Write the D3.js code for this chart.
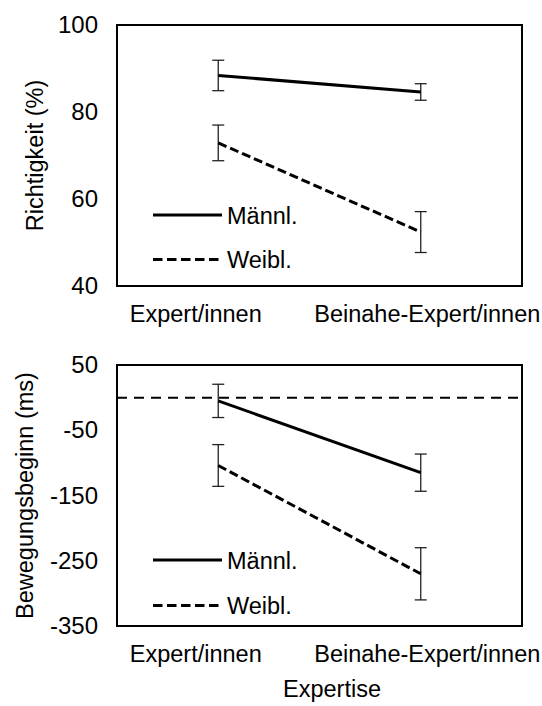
<!DOCTYPE html>
<html>
<head>
<meta charset="utf-8">
<script src="https://cdn.jsdelivr.net/npm/d3@7"></script>
<style>
	body { margin: 0; background: #fff; }
	text { font-family: "Liberation Sans", Arial, sans-serif; fill: #000; }
</style>
</head>
<body>
<svg></svg>
<script>
 //chart data
var categories = ['Expert/innen', 'Beinahe-Expert/innen'],
		seriesNames = ['Männl.', 'Weibl.'];
var accMale = [88.4, 84.6],
		accMaleErr = [3.5, 1.9],
		accFemale = [72.9, 52.4],
		accFemaleErr = [4.1, 4.7],
		accTicks = [40, 60, 80, 100];
var onsetMale = [-5, -115],
		onsetMaleErr = [25.5, 28.5],
		onsetFemale = [-104, -270],
		onsetFemaleErr = [32, 40],
		onsetTicks = [-350, -250, -150, -50, 50];

var W = 542, H = 706,
		root = d3.select('svg').attr('width', W).attr('height', H);

var FONT = 23.5,
		LEFT = 117, RIGHT = 522;

var sx = d3.scalePoint()
			.domain(categories)
			.range([LEFT, RIGHT])
			.padding(0.5);

 //one panel = box, axes, error bars, two lines, legend
function panel(opt) {
	var sy = d3.scaleLinear()
				.domain(opt.domain)
				.range([opt.bottom, opt.top]);
	var g = root.append('g');

	if(opt.refLine !== undefined) {
		g.append('line')
			.attr('x1', LEFT).attr('x2', RIGHT)
			.attr('y1', sy(opt.refLine)).attr('y2', sy(opt.refLine))
			.attr('stroke', '#000')
			.attr('stroke-width', 2)
			.attr('stroke-dasharray', '10,7');
	}

	var series = [
		{ name: seriesNames[0], values: opt.male, err: opt.maleErr, dash: null },
		{ name: seriesNames[1], values: opt.female, err: opt.femaleErr, dash: '9,4' }
	];

	var line = d3.line()
		.x(function(d) { return sx(d.c); })
		.y(function(d) { return sy(d.v); });

	series.forEach(function(s) {
		var pts = s.values.map(function(v, i) { return { c: categories[i], v: v, e: s.err[i] }; });

		var eb = g.append('g').selectAll('g').data(pts).enter().append('g')
			.attr('stroke', '#222')
			.attr('stroke-width', 1.3);
		eb.append('line')
			.attr('x1', function(d) { return sx(d.c); })
			.attr('x2', function(d) { return sx(d.c); })
			.attr('y1', function(d) { return sy(d.v - d.e); })
			.attr('y2', function(d) { return sy(d.v + d.e); });
		[-1, 1].forEach(function(k) {
			eb.append('line')
				.attr('x1', function(d) { return sx(d.c) - 6; })
				.attr('x2', function(d) { return sx(d.c) + 6; })
				.attr('y1', function(d) { return sy(d.v + k * d.e); })
				.attr('y2', function(d) { return sy(d.v + k * d.e); });
		});

		g.append('path')
			.datum(pts)
			.attr('d', line)
			.attr('fill', 'none')
			.attr('stroke', '#000')
			.attr('stroke-width', 3)
			.attr('stroke-dasharray', s.dash);
	});

	 //box
	g.append('rect')
		.attr('x', LEFT).attr('y', opt.top)
		.attr('width', RIGHT - LEFT).attr('height', opt.bottom - opt.top)
		.attr('fill', 'none')
		.attr('stroke', '#000')
		.attr('stroke-width', 2);

	 //axes
	var ay = g.append('g')
		.attr('transform', 'translate(' + LEFT + ',0)')
		.call(d3.axisLeft(sy).tickValues(opt.ticks).tickSize(0).tickPadding(19)
			.tickFormat(function(d) { return String(d); }));
	ay.select('.domain').remove();
	ay.selectAll('text').style('font-size', '24px').style('font-family', null).attr('fill', '#000');

	var ax = g.append('g')
		.attr('transform', 'translate(0,' + opt.bottom + ')')
		.call(d3.axisBottom(sx).tickSize(0).tickPadding(19.5));
	ax.select('.domain').remove();
	ax.selectAll('text')
		.style('font-size', FONT + 'px').style('font-family', null).attr('fill', '#000')
		.attr('dx', function(d, i) { return i === 0 ? -23 : 6; });

	 //y title
	g.append('text')
		.attr('transform', 'translate(' + opt.titleX + ',' + (opt.top + opt.bottom) / 2 + ') rotate(-90)')
		.attr('text-anchor', 'middle')
		.style('font-size', FONT + 'px')
		.text(opt.title);

	 //legend
	series.forEach(function(s, i) {
		var ly = opt.legendY[i];
		g.append('line')
			.attr('x1', 153).attr('x2', 222)
			.attr('y1', ly).attr('y2', ly)
			.attr('stroke', '#000')
			.attr('stroke-width', 3)
			.attr('stroke-dasharray', s.dash ? '9.5,4.5' : null);
		g.append('text')
			.attr('x', 227).attr('y', ly + 8.5)
			.style('font-size', FONT + 'px')
			.text(s.name);
	});
}

panel({
	top: 25, bottom: 286,
	domain: [40, 100], ticks: accTicks,
	male: accMale, maleErr: accMaleErr,
	female: accFemale, femaleErr: accFemaleErr,
	title: 'Richtigkeit (%)', titleX: 42.5,
	legendY: [215, 259.5]
});

panel({
	top: 365, bottom: 626,
	domain: [-350, 50], ticks: onsetTicks,
	male: onsetMale, maleErr: onsetMaleErr,
	female: onsetFemale, femaleErr: onsetFemaleErr,
	refLine: 0,
	title: 'Bewegungsbeginn (ms)', titleX: 33,
	legendY: [560, 605.5]
});

root.append('text')
	.attr('x', 332).attr('y', 697)
	.attr('text-anchor', 'middle')
	.style('font-size', FONT + 'px')
	.text('Expertise');
</script>
</body>
</html>
